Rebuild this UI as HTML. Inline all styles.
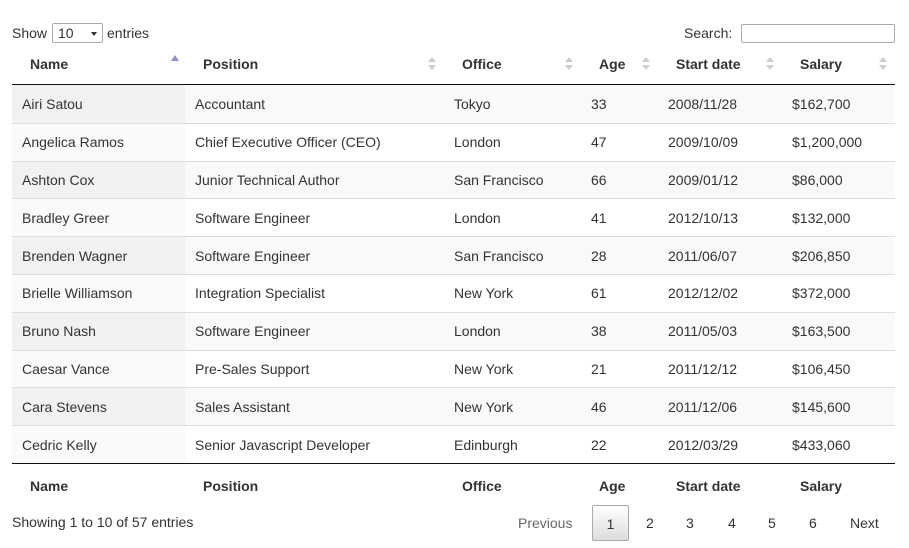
<!DOCTYPE html>
<html><head><style>
body{margin:0;width:909px;height:548px;background:#fff;font-family:"Liberation Sans",Arial,sans-serif;font-size:14px;color:#333;position:relative;overflow:hidden}
.a{position:absolute}
table{position:absolute;left:12px;top:44px;width:883px;border-collapse:collapse;table-layout:fixed}
th{font-weight:bold;text-align:left;padding:0 18px;color:#333;position:relative;white-space:nowrap}
thead th{height:40px;border-bottom:1px solid #111}
tfoot th{height:44px;border-top:1px solid #111}
td{padding:0 10px;height:36.8px;border-top:1px solid #ddd;color:#333;white-space:nowrap}
tbody tr:first-child td{border-top:none;height:37.8px}
tbody tr:nth-child(odd){background:#f9f9f9}
tbody tr:nth-child(odd) td:first-child{background:#f1f1f1}
tbody tr:nth-child(even) td:first-child{background:#fafafa}
.s::after{content:"";position:absolute;right:8px;top:13px;border:4px solid transparent;border-bottom:5px solid #ccc;border-top:none}
.s::before{content:"";position:absolute;right:8px;top:21px;border:4px solid transparent;border-top:5px solid #ccc;border-bottom:none}
.up::after{content:"";position:absolute;right:6px;top:11px;border:4px solid transparent;border-bottom:6px solid #8890c8;border-top:none}
.pg{position:absolute;top:505px;height:36px;line-height:36px;color:#333}
</style></head><body>
<div class="a" style="left:12px;top:25px">Show</div>
<div class="a" style="left:52px;top:23px;width:51px;height:20px;border:1px solid #aaa;border-radius:2px;box-sizing:border-box;line-height:18px;padding-left:5px">10<span style="position:absolute;right:5px;top:8px;border:3px solid transparent;border-top:4px solid #333"></span></div>
<div class="a" style="left:107px;top:25px">entries</div>
<div class="a" style="left:684px;top:25px">Search:</div>
<div class="a" style="left:741px;top:24px;width:152px;height:17px;border:1px solid #aaa;border-radius:2px"></div>
<table>
<colgroup><col style="width:173px"><col style="width:259px"><col style="width:137px"><col style="width:77px"><col style="width:124px"><col style="width:113px"></colgroup>
<thead><tr><th class="up">Name</th><th class="s">Position</th><th class="s">Office</th><th class="s">Age</th><th class="s">Start date</th><th class="s">Salary</th></tr></thead>
<tbody>
<tr><td>Airi Satou</td><td>Accountant</td><td>Tokyo</td><td>33</td><td>2008/11/28</td><td>$162,700</td></tr>
<tr><td>Angelica Ramos</td><td>Chief Executive Officer (CEO)</td><td>London</td><td>47</td><td>2009/10/09</td><td>$1,200,000</td></tr>
<tr><td>Ashton Cox</td><td>Junior Technical Author</td><td>San Francisco</td><td>66</td><td>2009/01/12</td><td>$86,000</td></tr>
<tr><td>Bradley Greer</td><td>Software Engineer</td><td>London</td><td>41</td><td>2012/10/13</td><td>$132,000</td></tr>
<tr><td>Brenden Wagner</td><td>Software Engineer</td><td>San Francisco</td><td>28</td><td>2011/06/07</td><td>$206,850</td></tr>
<tr><td>Brielle Williamson</td><td>Integration Specialist</td><td>New York</td><td>61</td><td>2012/12/02</td><td>$372,000</td></tr>
<tr><td>Bruno Nash</td><td>Software Engineer</td><td>London</td><td>38</td><td>2011/05/03</td><td>$163,500</td></tr>
<tr><td>Caesar Vance</td><td>Pre-Sales Support</td><td>New York</td><td>21</td><td>2011/12/12</td><td>$106,450</td></tr>
<tr><td>Cara Stevens</td><td>Sales Assistant</td><td>New York</td><td>46</td><td>2011/12/06</td><td>$145,600</td></tr>
<tr><td>Cedric Kelly</td><td>Senior Javascript Developer</td><td>Edinburgh</td><td>22</td><td>2012/03/29</td><td>$433,060</td></tr>
</tbody>
<tfoot><tr><th>Name</th><th>Position</th><th>Office</th><th>Age</th><th>Start date</th><th>Salary</th></tr></tfoot>
</table>
<div class="a" style="left:12px;top:514px">Showing 1 to 10 of 57 entries</div>
<div class="pg" style="left:518px;color:#666">Previous</div>
<div class="pg" style="left:592px;border:1px solid #aaa;border-radius:2px;text-align:center;background:linear-gradient(#fff,#ddd);box-sizing:border-box;width:37px">1</div>
<div class="pg" style="left:646px">2</div>
<div class="pg" style="left:686px">3</div>
<div class="pg" style="left:728px">4</div>
<div class="pg" style="left:768px">5</div>
<div class="pg" style="left:809px">6</div>
<div class="pg" style="left:850px">Next</div>
</body></html>
